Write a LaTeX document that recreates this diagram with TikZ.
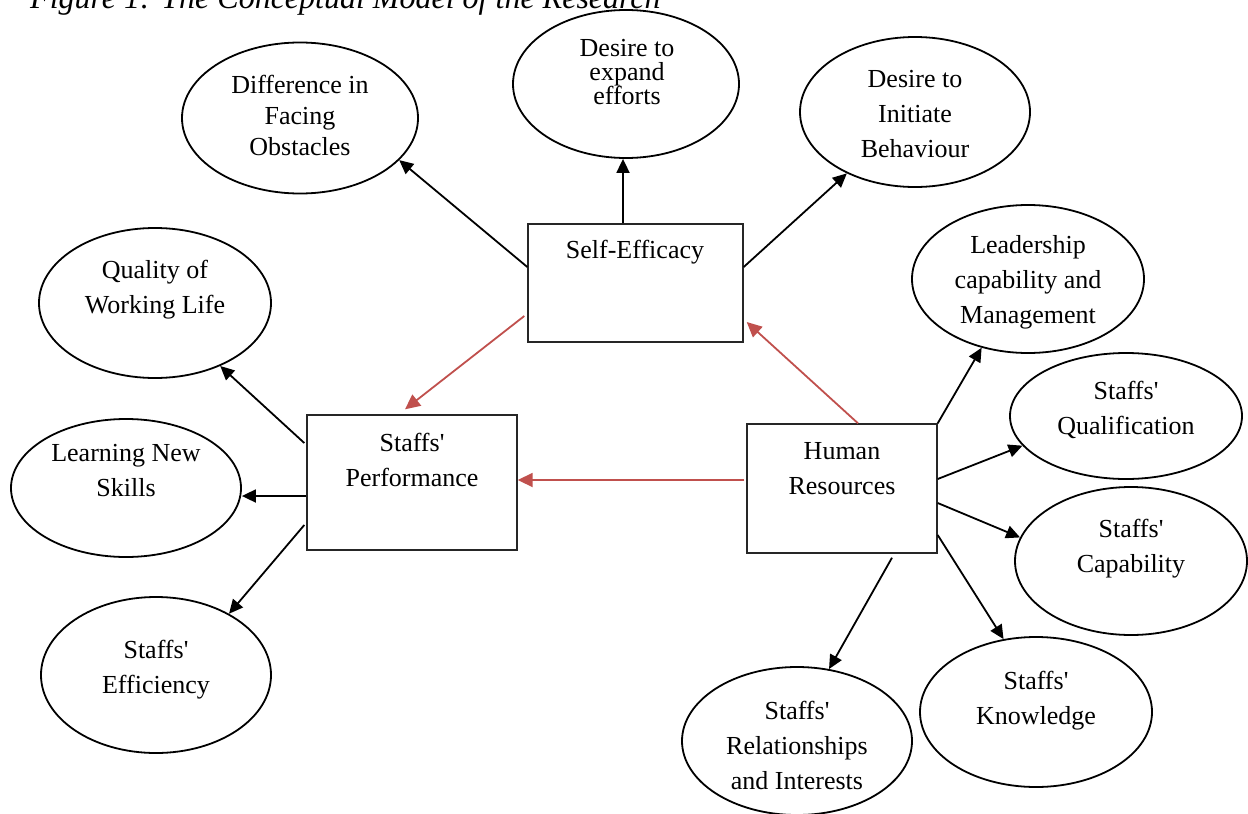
\documentclass[tikz,border=0pt]{standalone}
\usepackage{fontspec}
\setmainfont{Liberation Serif}
\usetikzlibrary{arrows.meta,shapes.geometric,calc}
\definecolor{redarr}{HTML}{C0504D}
\newcommand{\sq}{\textquotesingle}
\tikzset{
 ell/.style={ellipse, draw=black, line width=1.8pt, inner sep=0pt},
 box/.style={rectangle, draw=black!85, line width=1.4pt, inner sep=0pt},
 lbl/.style={align=center, font=\fontsize{26}{35}\selectfont, inner sep=0pt},
 arr/.style={-{Triangle[length=14pt,width=13pt]}, line width=1.8pt, black},
 rarr/.style={-{Triangle[length=15pt,width=14pt]}, line width=1.8pt, redarr},
}
\begin{document}
\begin{tikzpicture}[x=1pt,y=-1pt]
\useasboundingbox (0,0) rectangle (1248,814);
% caption (cut at the top)
\node[anchor=base west, inner sep=0pt, font=\fontsize{32}{36}\selectfont\itshape] (cap) at (30,8) {Figure 1: The Conceptual Model of the Research};

% ellipses
\node[ell, minimum width=236, minimum height=151] (dfo) at (300,118) {};
\node[ell, minimum width=226, minimum height=148] (exp) at (626,84) {};
\node[ell, minimum width=230, minimum height=150] (ini) at (915,112) {};
\node[ell, minimum width=232, minimum height=150] (qwl) at (155,303) {};
\node[ell, minimum width=230, minimum height=138] (lns) at (126,488) {};
\node[ell, minimum width=230, minimum height=156] (eff) at (156,675) {};
\node[ell, minimum width=232, minimum height=148] (lcm) at (1028,279) {};
\node[ell, minimum width=232, minimum height=126] (squ) at (1126,416) {};
\node[ell, minimum width=232, minimum height=148] (scp) at (1131,561) {};
\node[ell, minimum width=232, minimum height=150] (skn) at (1036,712) {};
\node[ell, minimum width=230, minimum height=148] (sri) at (797,741) {};

% boxes
\node[box, minimum width=215, minimum height=118] (se) at (635.5,283) {};
\node[box, minimum width=210, minimum height=135] (sp) at (412,482.5) {};
\node[box, minimum width=190, minimum height=129] (hr) at (842,488.5) {};

% labels
\node[lbl, font=\fontsize{26}{31}\selectfont] (dfoT) at (300,115) {Difference in\\Facing\\Obstacles};
\node[lbl, font=\fontsize{26}{24}\selectfont] (expT) at (627,72) {Desire to\\expand\\efforts};
\node[lbl] (iniT) at (915,114) {Desire to\\Initiate\\Behaviour};
\node[lbl] (qwlT) at (155,290) {Quality of\\Working Life};
\node[lbl] (lnsT) at (126,471) {Learning New\\Skills};
\node[lbl] (effT) at (156,670) {Staffs\sq\\Efficiency};
\node[lbl] (lcmT) at (1028,282) {Leadership\\capability and\\Management};
\node[lbl] (squT) at (1126,410) {Staffs\sq\\Qualification};
\node[lbl] (scpT) at (1131,549) {Staffs\sq\\Capability};
\node[lbl] (sknT) at (1036,701) {Staffs\sq\\Knowledge};
\node[lbl] (sriT) at (797,745) {Staffs\sq\\Relationships\\and Interests};
\node[lbl] (seT) at (635,252) {Self-Efficacy};
\node[lbl] (spT) at (412,460) {Staffs\sq\\Performance};
\node[lbl] (hrT) at (842,469) {Human\\Resources};

% black connectors
\draw[arr] ([yshift=16pt]se.west) -- (dfo.-23);
\draw[arr] ([xshift=-12.5pt]se.north) -- ([xshift=-3pt]exp.south);
\draw[arr] ([yshift=16pt]se.east) -- (ini.-138);
\draw[arr] ([xshift=-2pt,yshift=39.5pt]sp.west) -- (qwl.-44);
\draw[arr] ([yshift=-13.5pt]sp.west) coordinate (t1) -- (t1 -| lns.east);
\draw[arr] ([xshift=-2pt,yshift=-42.5pt]sp.west) -- (eff.40);
\draw[arr] (hr.north east) -- (lcm.-124);
\draw[arr] ([yshift=9.5pt]hr.east) -- (squ.-164);
\draw[arr] ([yshift=-14.5pt]hr.east) -- (scp.168.5);
\draw[arr] ([yshift=-46.5pt]hr.east) -- (skn.114);
\draw[arr] ([xshift=50pt,yshift=-4pt]hr.south) -- (sri.66);

% red connectors
\draw[rarr] ([xshift=-3pt,yshift=-33pt]se.west) -- ([xshift=-7pt,yshift=5pt]sp.north);
\draw[rarr] ([xshift=16pt]hr.north) -- ([xshift=3pt,yshift=-39pt]se.east);
\draw[rarr] ([xshift=-2pt,yshift=8.5pt]hr.west) -- ([yshift=2.5pt]sp.east);
\end{tikzpicture}
\end{document}
